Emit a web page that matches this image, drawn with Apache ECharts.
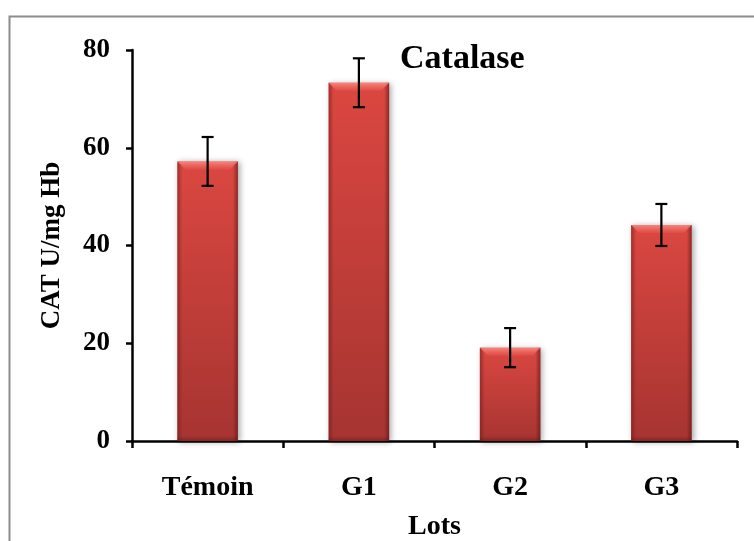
<!DOCTYPE html>
<html>
<head>
<meta charset="utf-8">
<script src="https://cdn.jsdelivr.net/npm/echarts@6/dist/echarts.min.js"></script>
<style>
  html, body { margin: 0; padding: 0; background: #fff; }
  #chart { width: 754px; height: 541px; }
</style>
</head>
<body>
<div id="chart"></div>
<script>
// Catalase activity per group (CAT U/mg Hb), mean and error
const lots = ['Témoin', 'G1', 'G2', 'G3'];
const catMeans = [57.2, 73.3, 19.1, 44.2];
const catErrors = [5.0, 5.0, 4.0, 4.3];
const yTicks = [0, 20, 40, 60, 80];

const FONT = '"Liberation Serif", "Times New Roman", serif';

const chart = echarts.init(document.getElementById('chart'), null, { renderer: 'canvas' });

// Bevelled bar: body with vertical shading, darker side edges, light top bevel
function renderBar(params, api) {
  const idx = api.value(0);
  const val = api.value(1);
  const top = api.coord([idx, val]);
  const base = api.coord([idx, 0]);
  const bw = api.size([1, 0])[0] * 0.4;
  const x0 = top[0] - bw / 2;
  const h = base[1] - top[1];
  const edge = 5;
  const bev = 8;
  return {
    type: 'group',
    children: [
      {
        type: 'rect',
        shape: { x: x0, y: top[1], width: bw, height: h },
        style: {
          fill: new echarts.graphic.LinearGradient(0, 0, 0, 1, [
            { offset: 0, color: '#db4741' },
            { offset: 1, color: '#a63431' }
          ]),
          shadowBlur: 6,
          shadowOffsetX: 2,
          shadowOffsetY: 1,
          shadowColor: 'rgba(0,0,0,0.35)'
        }
      },
      {
        type: 'rect',
        shape: { x: x0, y: top[1], width: edge, height: h },
        style: {
          fill: new echarts.graphic.LinearGradient(0, 0, 1, 0, [
            { offset: 0, color: 'rgba(110,25,25,0.55)' },
            { offset: 1, color: 'rgba(110,25,25,0)' }
          ])
        }
      },
      {
        type: 'rect',
        shape: { x: x0 + bw - edge, y: top[1], width: edge, height: h },
        style: {
          fill: new echarts.graphic.LinearGradient(0, 0, 1, 0, [
            { offset: 0, color: 'rgba(90,20,20,0)' },
            { offset: 1, color: 'rgba(90,20,20,0.6)' }
          ])
        }
      },
      {
        type: 'rect',
        shape: { x: x0, y: base[1] - edge, width: bw, height: edge },
        style: {
          fill: new echarts.graphic.LinearGradient(0, 0, 0, 1, [
            { offset: 0, color: 'rgba(90,20,20,0)' },
            { offset: 1, color: 'rgba(90,20,20,0.45)' }
          ])
        }
      },
      {
        type: 'polygon',
        shape: {
          points: [
            [x0, top[1]], [x0 + bw, top[1]],
            [x0 + bw - bev, top[1] + bev], [x0 + bev, top[1] + bev]
          ]
        },
        style: {
          fill: new echarts.graphic.LinearGradient(0, 0, 0, 1, [
            { offset: 0, color: 'rgba(255,150,140,0.8)' },
            { offset: 1, color: 'rgba(255,120,110,0.15)' }
          ])
        }
      }
    ]
  };
}

// Error bar: vertical whisker with horizontal caps
function renderError(params, api) {
  const idx = api.value(0);
  const lo = api.coord([idx, api.value(1)]);
  const hi = api.coord([idx, api.value(2)]);
  const cap = 6;
  const style = { stroke: '#000', lineWidth: 2.2 };
  return {
    type: 'group',
    children: [
      { type: 'line', shape: { x1: hi[0], y1: hi[1], x2: lo[0], y2: lo[1] }, style },
      { type: 'line', shape: { x1: hi[0] - cap, y1: hi[1], x2: hi[0] + cap, y2: hi[1] }, style },
      { type: 'line', shape: { x1: lo[0] - cap, y1: lo[1], x2: lo[0] + cap, y2: lo[1] }, style }
    ]
  };
}

const barData = lots.map((_, i) => [i, catMeans[i]]);
const errData = lots.map((_, i) => [i, catMeans[i] - catErrors[i], catMeans[i] + catErrors[i]]);

chart.setOption({
  animation: false,
  backgroundColor: '#fff',
  graphic: [
    {
      type: 'rect',
      left: 7, top: 14,
      shape: { x: 0, y: 0, width: 800, height: 600 },
      style: { fill: 'none', stroke: '#8c8c8c', lineWidth: 2 },
      z: -1
    }
  ],
  title: {
    text: 'Catalase',
    left: 395, top: 37,
    textStyle: { fontFamily: FONT, fontWeight: 'bold', fontSize: 34, color: '#000' }
  },
  grid: { left: 132, right: 17, top: 50, bottom: 100, containLabel: false, outerBoundsMode: 'none' },
  xAxis: {
    type: 'category',
    data: lots,
    boundaryGap: true,
    name: 'Lots',
    nameLocation: 'middle',
    nameGap: 72,
    nameTextStyle: { fontFamily: FONT, fontWeight: 'bold', fontSize: 28, color: '#000' },
    axisLine: { lineStyle: { color: '#000', width: 2.5 } },
    axisTick: { show: true, alignWithLabel: false, length: 7, lineStyle: { color: '#000', width: 2.5 } },
    axisLabel: { fontFamily: FONT, fontWeight: 'bold', fontSize: 28, color: '#000', margin: 33 }
  },
  yAxis: {
    type: 'value',
    min: yTicks[0],
    max: yTicks[yTicks.length - 1],
    interval: yTicks[1] - yTicks[0],
    name: 'CAT U/mg Hb',
    nameLocation: 'middle',
    nameGap: 66,
    nameTextStyle: { fontFamily: FONT, fontWeight: 'bold', fontSize: 27, color: '#000' },
    splitLine: { show: false },
    axisLine: { show: true, lineStyle: { color: '#000', width: 2.5 } },
    axisTick: { show: true, length: 6, lineStyle: { color: '#000', width: 2.5 } },
    axisLabel: { fontFamily: FONT, fontWeight: 'bold', fontSize: 27, color: '#000', margin: 22 }
  },
  series: [
    {
      type: 'custom',
      renderItem: renderBar,
      data: barData,
      encode: { x: 0, y: 1 },
      z: 2
    },
    {
      type: 'custom',
      renderItem: renderError,
      data: errData,
      encode: { x: 0, y: [1, 2] },
      z: 3
    }
  ]
});
</script>
</body>
</html>
